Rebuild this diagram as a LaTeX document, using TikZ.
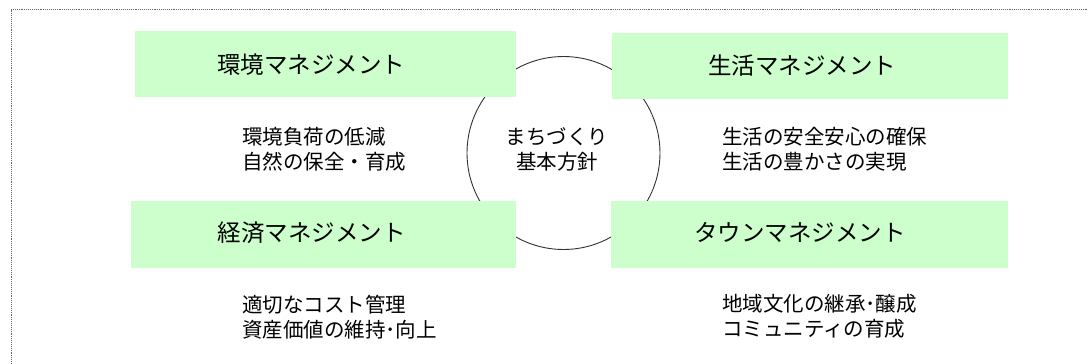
\documentclass[tikz,border=0pt]{standalone}
\usepackage{fontspec}
\newfontfamily\jp{Noto Sans CJK JP}
\definecolor{boxgreen}{HTML}{CCFFCC}
\definecolor{linegray}{HTML}{333333}
\begin{document}
\begin{tikzpicture}[x=1pt,y=-1pt,
  mbox/.style={fill=boxgreen, draw=none},
  title/.style={font=\jp\fontsize{23.5}{28}\selectfont, text=black, inner sep=0pt},
  body/.style={font=\jp\fontsize{20.5}{25}\selectfont, text=black, inner sep=0pt, anchor=west, align=left},
  ctext/.style={font=\jp\fontsize{20.5}{25}\selectfont, text=black, inner sep=0pt, align=center}]
\useasboundingbox (0,0) rectangle (1088,364);
\draw[gray!80!black, densely dotted, line width=0.9pt] (11,9.5) -- (1095,9.5);
\draw[gray!80!black, densely dotted, line width=0.9pt] (11,9.5) -- (11,370);
% circle behind
\node[circle, draw=linegray, line width=0.9pt, minimum size=193pt, inner sep=0pt] (core) at (563.5,153) {};
% boxes
\fill[mbox] (135,31) rectangle (516,97);
\fill[mbox] (612,33) rectangle (1008,99);
\fill[mbox] (131,201) rectangle (516,268);
\fill[mbox] (611,201) rectangle (1008,268);
% titles
\node[title] (t1) at (311,65) {環境マネジメント};
\node[title] (t2) at (802,66) {生活マネジメント};
\node[title] (t3) at (311.5,233) {経済マネジメント};
\node[title] (t4) at (800,232) {タウンマネジメント};
% bodies
\node[body] (b1) at (242,149.5) {環境負荷の低減\\自然の保全・育成};
\node[body] (b2) at (722,149.5) {生活の安全安心の確保\\生活の豊かさの実現};
\node[body] (b3) at (242,317.5) {適切なコスト管理\\資産価値の維持･向上};
\node[body] (b4) at (722,316.5) {地域文化の継承･醸成\\コミュニティの育成};
\node[ctext] (c) at (557,149.5) {まちづくり\\基本方針};
\end{tikzpicture}
\end{document}
